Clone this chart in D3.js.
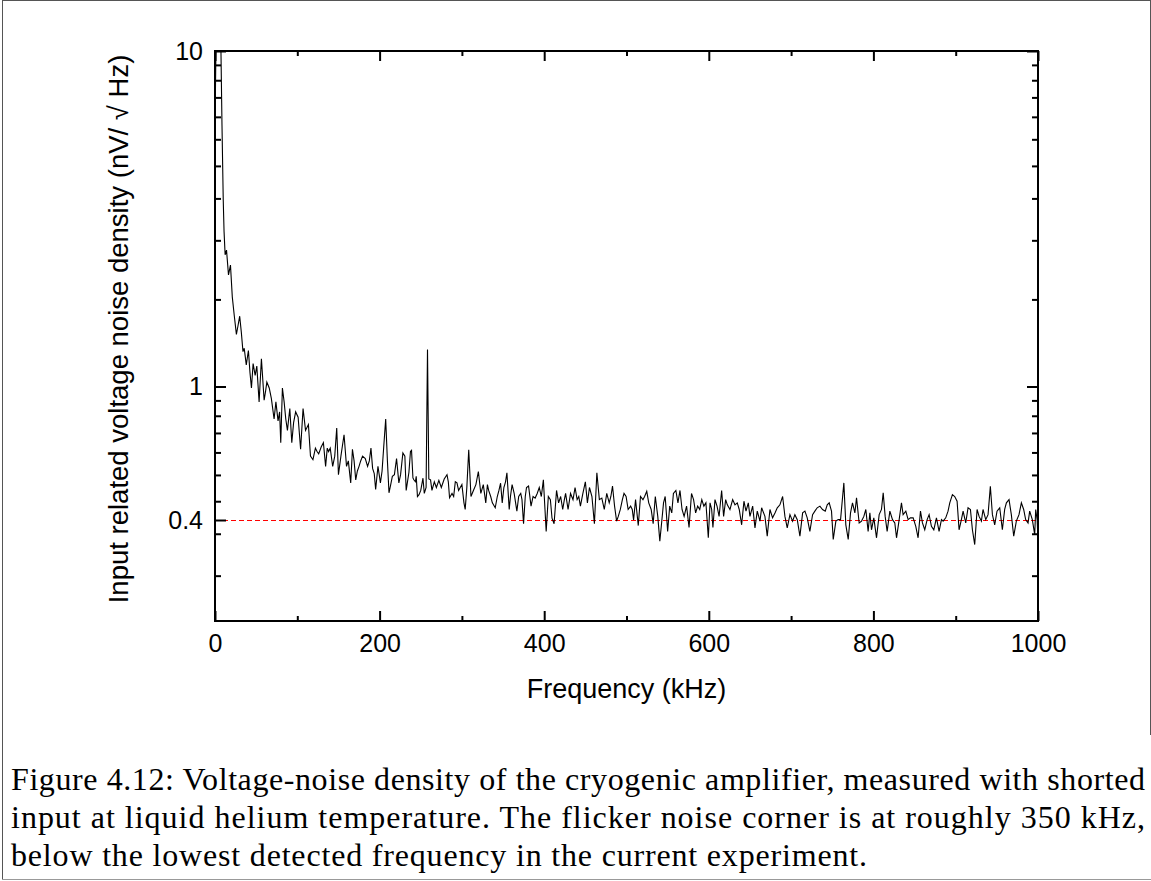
<!DOCTYPE html>
<html>
<head>
<meta charset="utf-8">
<script src="https://cdn.jsdelivr.net/npm/d3@7"></script>
<style>
  html, body { margin: 0; padding: 0; background: #fff; }
  svg { display: block; }
</style>
</head>
<body>
<svg id="chart" width="1151" height="881"></svg>
<script>
// ---------- data (kHz, nV/sqrt(Hz)) ----------
const traceLow = [
  [0.5, 7.5], [1.5, 12], [3, 14], [5, 13], [7, 11], [8.5, 6.0], [10, 3.6], [11, 2.9], [12.3, 2.47], [14, 2.55],
  [16.4, 2.15], [18.8, 2.30], [21, 1.85], [23.5, 1.62], [26, 1.43], [28, 1.52], [30, 1.62], [32, 1.45], [34, 1.27], [35.5, 1.30],
  [38, 1.16], [40.6, 1.28], [42.5, 1.10], [44.3, 0.99], [46.3, 1.17], [48.8, 1.08], [50.8, 1.15], [53.6, 0.90], [56.4, 1.21], [59.7, 0.91],
  [61.5, 0.97], [63, 1.03], [65.9, 0.99], [68.5, 0.92], [71.8, 0.80], [74, 0.90], [76.6, 0.79], [78.5, 0.84], [79.9, 0.68], [81.9, 0.99],
  [84, 0.90], [86, 0.80], [88, 0.74], [90.9, 0.86], [93.3, 0.68], [95.5, 0.78], [98, 0.84], [101, 0.81], [104, 0.65], [107, 0.86],
  [110, 0.74], [113.5, 0.77], [116, 0.62], [119, 0.605], [122, 0.655], [124, 0.64], [126, 0.63], [129, 0.66], [131.7, 0.68], [134.4, 0.578],
  [136.4, 0.655], [138, 0.64], [140, 0.655], [143, 0.578], [145.5, 0.62], [147.9, 0.752], [150, 0.546], [153, 0.62], [156.8, 0.718], [159.8, 0.578],
  [162, 0.60], [164.9, 0.516], [167, 0.65], [169, 0.60], [171, 0.527], [173, 0.56], [175, 0.578], [177, 0.60], [179.3, 0.62], [182.6, 0.61],
  [185.4, 0.578], [187.5, 0.60], [189.5, 0.655], [191.5, 0.57], [193.5, 0.55], [195.2, 0.493], [198, 0.578], [201, 0.516], [203, 0.56], [205, 0.66],
  [207.4, 0.80], [209.5, 0.60], [211.4, 0.482], [213.5, 0.51], [215.5, 0.54], [218, 0.546], [220.6, 0.61], [223.4, 0.516], [225.5, 0.546], [228.3, 0.634],
  [230.7, 0.62], [232.3, 0.49], [235.6, 0.554], [237.5, 0.64], [238.8, 0.645], [240.5, 0.534], [241.6, 0.527], [243.5, 0.52], [244.5, 0.54], [246, 0.47],
  [247.9, 0.476], [250, 0.49], [252.7, 0.533], [254.3, 0.48], [256.5, 0.50], [258.2, 1.29], [259.8, 0.53]
];
const traceMid = [
  [261.9, 0.527], [263.6, 0.49], [266.5, 0.52], [269, 0.50], [272, 0.525], [275, 0.50], [278.5, 0.53], [281.9, 0.546], [283.5, 0.52], [285, 0.466],
  [288, 0.48], [290, 0.47], [292, 0.52], [294, 0.516], [296, 0.49], [298, 0.50], [300, 0.51], [302.5, 0.45], [304, 0.43], [306, 0.50],
  [308.3, 0.648], [311, 0.47], [314, 0.49], [317, 0.51], [320, 0.558], [323, 0.48], [326, 0.51], [329, 0.45], [331, 0.51], [332.5, 0.49],
  [335, 0.47], [337, 0.45], [340.5, 0.435], [343, 0.47], [345, 0.49], [347, 0.515], [349, 0.45], [351, 0.50], [353, 0.52], [354.7, 0.553],
  [357.5, 0.43], [359, 0.47], [361, 0.51], [363.5, 0.48], [366.8, 0.425], [369, 0.47], [371.5, 0.48], [373, 0.46], [374.9, 0.39], [377, 0.47],
  [378.5, 0.50], [381, 0.505], [384, 0.44], [386.5, 0.47], [389, 0.465], [391.5, 0.48], [394, 0.50], [396.5, 0.47], [399, 0.527], [402.4, 0.37],
  [405, 0.47], [407.5, 0.46], [409.5, 0.405], [412, 0.39], [415, 0.49], [417.5, 0.45], [420, 0.47], [422.5, 0.43], [424.5, 0.46], [426, 0.48],
  [429, 0.43], [432, 0.48], [435, 0.46], [437.5, 0.50], [440, 0.46], [442, 0.47], [444, 0.44], [447, 0.48], [450, 0.52], [452.5, 0.45],
  [455, 0.50], [458, 0.47], [461, 0.39], [464, 0.553], [467, 0.46], [470, 0.465], [473, 0.43], [476, 0.48], [479, 0.45], [481, 0.47],
  [483, 0.505], [485.5, 0.44], [488, 0.397], [490, 0.41], [492.5, 0.43], [495, 0.46], [497, 0.48], [499.5, 0.47], [502, 0.43], [505, 0.44],
  [507, 0.43], [508.6, 0.40], [511, 0.46], [514.3, 0.385], [517, 0.47], [520, 0.46], [522, 0.47], [524.6, 0.487], [527, 0.45], [530, 0.43],
  [532.4, 0.39], [535, 0.47], [538, 0.41], [540.5, 0.346], [543, 0.40], [545, 0.45], [547, 0.47], [550, 0.37], [552.5, 0.44], [555, 0.42],
  [557, 0.48], [560, 0.49], [562.5, 0.45], [565, 0.49], [567.5, 0.43], [570, 0.41], [573, 0.44], [576, 0.38], [579, 0.48], [581.5, 0.46],
  [584, 0.42], [586.5, 0.44], [589, 0.43], [591.5, 0.46], [594, 0.44], [596.5, 0.45], [599.4, 0.354], [601.5, 0.45], [603.5, 0.43], [605, 0.38],
  [607.5, 0.46], [610, 0.44], [612.5, 0.41], [615.6, 0.49], [618, 0.41], [620.5, 0.46]
];
const traceHigh = [
  [622.5, 0.444], [625.7, 0.43], [629, 0.46], [631.8, 0.444], [634.6, 0.45], [637, 0.43], [639.9, 0.387], [642.7, 0.455], [645.2, 0.425], [648, 0.45],
  [650, 0.41], [653.3, 0.44], [656.1, 0.379], [658.9, 0.425], [662.2, 0.397], [664.2, 0.435], [668.2, 0.41], [671, 0.358], [674.3, 0.43], [677.5, 0.406],
  [680.4, 0.42], [683.2, 0.435], [686.4, 0.444], [689.7, 0.47], [692.5, 0.41], [695.3, 0.379], [698.6, 0.415], [701.8, 0.397], [704.6, 0.415], [707.5, 0.401],
  [710.7, 0.358], [714, 0.42], [716.8, 0.425], [719.6, 0.406], [722.8, 0.37], [726.1, 0.415], [728.9, 0.425], [731.7, 0.435], [735, 0.44], [738.2, 0.43],
  [741.5, 0.425], [743.9, 0.444], [746.3, 0.45], [749.1, 0.425], [751.2, 0.35], [754.4, 0.397], [757.2, 0.401], [760.1, 0.401], [764.1, 0.516], [766.5, 0.387],
  [769.4, 0.35], [772.2, 0.42], [774.6, 0.45], [777.5, 0.42], [779.5, 0.466], [782.7, 0.392], [785.6, 0.397], [788.4, 0.41], [790.8, 0.43], [793.6, 0.37],
  [795.7, 0.42], [797.7, 0.374], [800.5, 0.406], [803.8, 0.354], [807, 0.415], [809.8, 0.43], [811.9, 0.482], [814.3, 0.41], [816.7, 0.37], [820, 0.425],
  [823.2, 0.401], [826, 0.392], [828.1, 0.354], [831.3, 0.401], [834.1, 0.45], [836.1, 0.415], [839.4, 0.425], [842.2, 0.401], [845, 0.406], [848.3, 0.406],
  [851.5, 0.383], [854.3, 0.354], [857.2, 0.425], [859.6, 0.392], [862.4, 0.374], [865.3, 0.401], [867.7, 0.415], [870.5, 0.383], [873.4, 0.374], [876.6, 0.406],
  [879.8, 0.37], [882.7, 0.401], [884.7, 0.397], [887.9, 0.406], [890.7, 0.425], [892.8, 0.45], [896, 0.476], [898.8, 0.47], [901.7, 0.455], [904.1, 0.374],
  [906.9, 0.401], [909, 0.425], [912.2, 0.392], [915, 0.435], [917.9, 0.43], [920.3, 0.374], [923.1, 0.338], [926, 0.43], [928.4, 0.41], [931.2, 0.397],
  [933.2, 0.43], [936.5, 0.401], [939.3, 0.415], [942.1, 0.504], [944.6, 0.415], [947.4, 0.387], [950.2, 0.425], [953.5, 0.435], [956.7, 0.374], [959.5, 0.43],
  [961.6, 0.45], [964.8, 0.46], [967.6, 0.415], [970.5, 0.358], [973.7, 0.397], [976.9, 0.415], [979.8, 0.45], [982.6, 0.43], [985, 0.401], [987.9, 0.392],
  [989.9, 0.425], [993.1, 0.401], [996, 0.362], [997.2, 0.43], [999, 0.40], [1000, 0.345]
];
const flatNoiseLevel = 0.4;

const xTicksMajor = [0, 200, 400, 600, 800, 1000];
const xTicksMinor = [100, 300, 500, 700, 900];
const yTicksMajorLeft = [0.4, 1, 10];
const yTicksMajorRight = [1, 10];
const yTicksMinor = [0.273, 0.364, 0.455, 0.545, 0.636, 0.727, 0.818, 0.909,
                     1.818, 2.727, 3.636, 4.545, 5.455, 6.364, 7.273, 8.182, 9.091];

const xTitle = "Frequency (kHz)";
const yTitle = "Input related voltage noise density (nV/ \u221A Hz)";
const captionLines = [
  "Figure 4.12: Voltage-noise density of the cryogenic amplifier, measured with shorted",
  "input at liquid helium temperature. The flicker noise corner is at roughly 350 kHz,",
  "below the lowest detected frequency in the current experiment."
];

// ---------- layout ----------
const svg = d3.select("#chart");
const L = 215, R = 1038, T = 51, B = 621;
const x = d3.scaleLinear().domain([0, 1000]).range([L, R]);
const y = d3.scaleLog().domain([0.2, 10]).range([B, T]);
const sans = "'Liberation Sans', Arial, Helvetica, sans-serif";

// figure border
const border = svg.append("g").attr("fill", "none");
border.append("line").attr("x1", 2.5).attr("x2", 2.5).attr("y1", 0).attr("y2", 880).attr("stroke", "#555");
border.append("line").attr("x1", 2).attr("x2", 1151).attr("y1", 0.5).attr("y2", 0.5).attr("stroke", "#555");
border.append("line").attr("x1", 1150.5).attr("x2", 1150.5).attr("y1", 0).attr("y2", 735).attr("stroke", "#555");
border.append("line").attr("x1", 2).attr("x2", 1151).attr("y1", 879.5).attr("y2", 879.5).attr("stroke", "#999");

// clip
svg.append("defs").append("clipPath").attr("id", "plotclip")
  .append("rect").attr("x", L).attr("y", T).attr("width", R - L).attr("height", B - T);

// reference line (snapped to pixel centre for a crisp red dash)
const yRef = Math.round(y(flatNoiseLevel)) + 0.5;
svg.append("line")
  .attr("x1", x(0)).attr("x2", x(1000))
  .attr("y1", yRef).attr("y2", yRef)
  .attr("stroke", "#ff0000").attr("stroke-width", 1)
  .attr("stroke-dasharray", "5,3");

// trace
const trace = traceLow.concat(traceMid, traceHigh);
const line = d3.line().x(d => x(d[0])).y(d => y(d[1]));
svg.append("path")
  .attr("clip-path", "url(#plotclip)")
  .attr("d", line(trace))
  .attr("fill", "none").attr("stroke", "#000").attr("stroke-width", 1.1)
  .attr("stroke-linejoin", "miter");

// axes helper
function styleAxis(g) {
  g.select(".domain").remove();
  g.selectAll(".tick line").attr("stroke", "#000").attr("stroke-width", 2);
  g.selectAll(".tick text").attr("font-family", sans).attr("font-size", 25).attr("fill", "#000");
}
svg.append("g").attr("transform", `translate(0,${B})`)
  .call(d3.axisBottom(x).tickValues(xTicksMajor).tickSize(-10).tickPadding(13).tickFormat(d3.format("d")))
  .call(styleAxis);
svg.append("g").attr("transform", `translate(0,${B})`)
  .call(d3.axisBottom(x).tickValues(xTicksMinor).tickSize(-5).tickFormat(""))
  .call(styleAxis);
svg.append("g").attr("transform", `translate(0,${T})`)
  .call(d3.axisTop(x).tickValues(xTicksMajor).tickSize(-10).tickFormat(""))
  .call(styleAxis);
svg.append("g").attr("transform", `translate(0,${T})`)
  .call(d3.axisTop(x).tickValues(xTicksMinor).tickSize(-5).tickFormat(""))
  .call(styleAxis);
svg.append("g").attr("transform", `translate(${L},0)`)
  .call(d3.axisLeft(y).tickValues(yTicksMajorLeft).tickSize(-11).tickPadding(12).tickFormat(d => String(d)))
  .call(styleAxis);
svg.append("g").attr("transform", `translate(${L},0)`)
  .call(d3.axisLeft(y).tickValues(yTicksMinor).tickSize(-6).tickFormat(""))
  .call(styleAxis);
svg.append("g").attr("transform", `translate(${R},0)`)
  .call(d3.axisRight(y).tickValues(yTicksMajorRight).tickSize(-11).tickFormat(""))
  .call(styleAxis);
svg.append("g").attr("transform", `translate(${R},0)`)
  .call(d3.axisRight(y).tickValues(yTicksMinor).tickSize(-6).tickFormat(""))
  .call(styleAxis);

// frame
svg.append("rect").attr("x", L).attr("y", T).attr("width", R - L).attr("height", B - T)
  .attr("fill", "none").attr("stroke", "#000").attr("stroke-width", 2);

// titles
svg.append("text").attr("x", (L + R) / 2).attr("y", 698)
  .attr("text-anchor", "middle").attr("font-family", sans).attr("font-size", 27)
  .text(xTitle);
svg.append("text").attr("transform", "translate(128,329) rotate(-90)")
  .attr("text-anchor", "middle").attr("font-family", sans).attr("font-size", 27.5)
  .text(yTitle);

// caption
const capWidths = [1134, 1134, 856];
svg.append("g").selectAll("text").data(captionLines).join("text")
  .attr("x", 11).attr("y", (d, i) => 790 + i * 38)
  .attr("font-family", "'Liberation Serif', 'Times New Roman', serif")
  .attr("font-size", 32)
  .attr("textLength", (d, i) => capWidths[i])
  .attr("lengthAdjust", "spacing")
  .text(d => d);
</script>
</body>
</html>
